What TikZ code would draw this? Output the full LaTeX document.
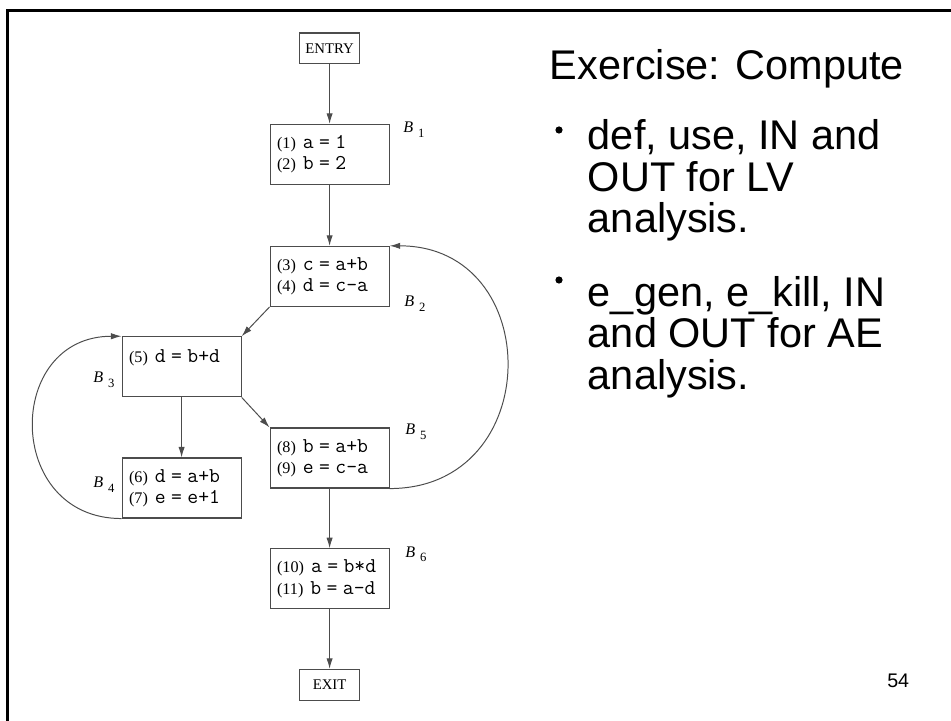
\documentclass[tikz,border=0pt]{standalone}
\usepackage{fontspec}
\setmainfont{Liberation Serif}
\setsansfont{Liberation Sans}
\usetikzlibrary{arrows.meta,positioning}

\definecolor{ink}{gray}{0.3}
% statement: number in serif, code in typewriter
\newcommand{\stmt}[2]{(#1)\hspace{5pt}{\fontsize{15}{15}\selectfont\ttfamily #2}}
% block name B_i
\newcommand{\blk}[1]{{\itshape B}\hspace{3.5pt}\raisebox{-3.5pt}{\fontsize{9}{9}\selectfont #1}}

\tikzset{
	block/.style={draw=ink, line width=0.8pt, text width=2.625cm, minimum height=1.5cm,
		inner xsep=0.175cm, align=left, font=\fontsize{11.5}{15}\selectfont},
	term/.style={draw=ink, line width=0.8pt, minimum width=1.5cm, minimum height=0.77cm,
		inner sep=1pt, font=\fontsize{10.5}{12}\selectfont},
	flow/.style={draw=ink, line width=0.7pt, -{Latex[length=7.5pt,width=4.5pt]}},
	blab/.style={anchor=base west, inner sep=0pt, font=\fontsize{11.5}{12}\selectfont},
	slide/.style={anchor=base west, inner sep=0pt, font=\sffamily\fontsize{29.5}{30}\selectfont},
	dot/.style={circle, fill=black, inner sep=0pt, minimum size=0.18cm},
}

\begin{document}
\begin{tikzpicture}
	\useasboundingbox (0,0) rectangle (23.775,18);
	\draw[line width=0.075cm] (0.175,-0.5) -- (0.175,17.725) -- (24.5,17.725);

	% flow graph
	\node[term] (entry) at (8.24,16.79) {ENTRY};
	\node[block] (b1) at (8.24,14.14) {\stmt{1}{a = 1}\\ \stmt{2}{b = 2}};
	\node[block] (b2) at (8.24,11.09) {\stmt{3}{c = a+b}\\ \stmt{4}{d = c-a}};
	\node[block] (b3) at (4.54,8.83) {\stmt{5}{d = b+d}\\ \mbox{}};
	\node[block] (b4) at (4.54,5.80) {\stmt{6}{d = a+b}\\ \stmt{7}{e = e+1}};
	\node[block] (b5) at (8.24,6.55) {\stmt{8}{b = a+b}\\ \stmt{9}{e = c-a}};
	\node[block] (b6) at (8.24,3.53) {\stmt{10}{a = b*d}\\ \stmt{11}{b = a-d}};
	\node[term] (exit) at (8.24,0.88) {EXIT};

	\node[blab] (n1) at (10.075,14.675) {\blk{1}};
	\node[blab] (n2) at (10.1,10.325) {\blk{2}};
	\node[blab] (n3) at (2.325,8.425) {\blk{3}};
	\node[blab] (n4) at (2.325,5.8) {\blk{4}};
	\node[blab] (n5) at (10.125,7.125) {\blk{5}};
	\node[blab] (n6) at (10.125,4.075) {\blk{6}};

	\draw[flow] (entry) -- (b1);
	\draw[flow] (b1) -- (b2);
	\draw[flow] (b2.south west) -- (b3.north east);
	\draw[flow] (b3.south) -- (b4.north);
	\draw[flow] (b3.south east) -- (b5.north west);
	\draw[flow] (b5) -- (b6);
	\draw[flow] (b6) -- (exit);
	% back edges
	\draw[flow] (b4.south west) to[out=180,in=180,looseness=1.65] (b3.north west);
	\draw[flow] (b5.south east) to[out=0,in=0,looseness=1.65] (b2.north east);

	% exercise text
	\node[slide] (title) at (13.74,16.0) {Exercise: Compute};
	\node[dot] (dotlv) at (13.975,14.75) {};
	\node[slide] (lv1) at (14.69,14.25) {def, use, IN and};
	\node[slide] (lv2) at (14.69,13.2) {OUT for LV};
	\node[slide] (lv3) at (14.69,12.175) {analysis.};
	\node[dot] (dotae) at (13.975,11.0) {};
	\node[slide] (ae1) at (14.69,10.325) {e\_gen, e\_kill, IN};
	\node[slide] (ae2) at (14.69,9.3) {and OUT for AE};
	\node[slide] (ae3) at (14.69,8.25) {analysis.};
	\node[anchor=base west, inner sep=0pt, font=\sffamily\fontsize{14}{14}\selectfont] (page) at (22.175,0.825) {54};
\end{tikzpicture}
\end{document}
